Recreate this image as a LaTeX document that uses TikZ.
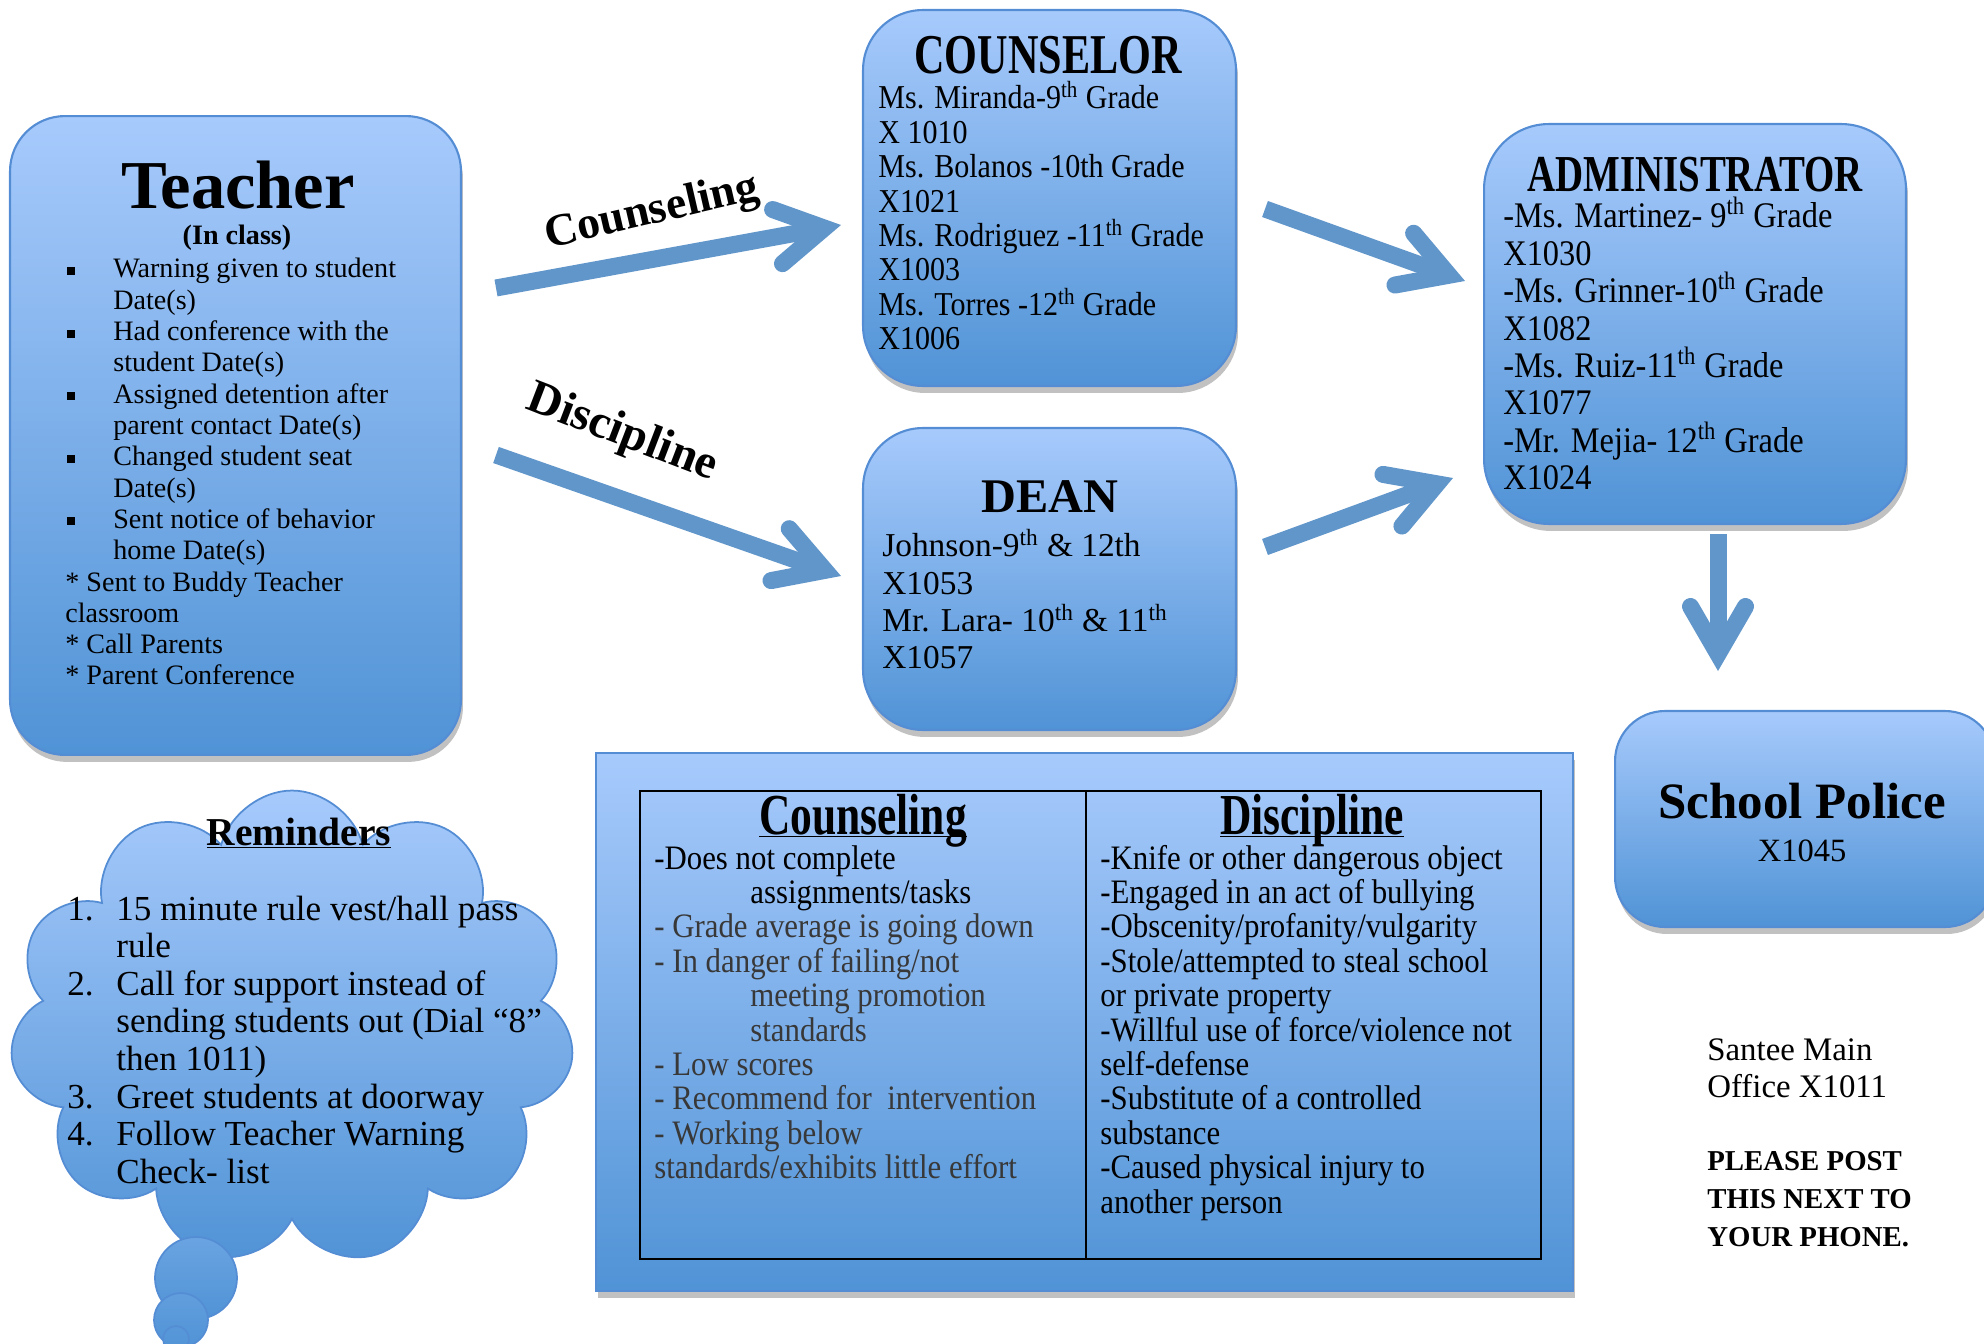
\documentclass[tikz,border=0pt]{standalone}
\usepackage{fontspec}
\setmainfont{Liberation Serif}
\newfontfamily\condfont[FakeStretch=0.9]{Liberation Serif}
\newfontfamily\headfont[FakeStretch=0.75]{Liberation Serif}
\usetikzlibrary{arrows.meta, shapes.symbols, shadows}
\definecolor{boxtop}{RGB}{167,202,252}
\definecolor{boxbot}{RGB}{80,147,214}
\definecolor{boxline}{RGB}{84,141,212}
\definecolor{flowblue}{RGB}{97,150,203}
\newcommand{\ulflat}[1]{\underline{\smash{#1}}}

\tikzset{
  box/.style={draw=boxline, line width=1.2pt, top color=boxtop, bottom color=boxbot,
    drop shadow={shadow xshift=0.4mm, shadow yshift=-1.4mm, opacity=0.35, fill=black!70}},
  bubble/.style={draw=boxline, line width=1pt, top color=boxtop, bottom color=boxbot},
  flow/.style={draw=flowblue, line width=9.7pt,
    -{Straight Barb[length=0.95cm, width=1.1cm, line cap=round]}},
  tline/.style={anchor=base west, inner sep=0pt, font=\fontsize{16}{18}\selectfont},
  cline/.style={anchor=base west, inner sep=0pt, font=\condfont\fontsize{19}{20}\selectfont},
  aline/.style={anchor=base west, inner sep=0pt, font=\condfont\fontsize{20.5}{21}\selectfont},
  dline/.style={anchor=base west, inner sep=0pt, font=\fontsize{19}{21}\selectfont},
  rline/.style={anchor=base west, inner sep=0pt, font=\condfont\fontsize{19.5}{20}\selectfont},
  mline/.style={anchor=base west, inner sep=0pt, font=\fontsize{20}{21}\selectfont},
  pline/.style={anchor=base west, inner sep=0pt, font=\fontsize{18.7}{20}\selectfont},
  head/.style={anchor=base, inner sep=0pt, font=\headfont\bfseries\fontsize{30}{32}\selectfont},
  lbl/.style={inner sep=0pt, font=\bfseries\fontsize{26}{28}\selectfont},
  bulletbox/.style={fill=black, inner sep=0pt, minimum size=0.16cm}
}

\begin{document}
\begin{tikzpicture}[x=0.02cm, y=-0.02cm]
  \useasboundingbox (0,0) rectangle (1984,1344);

  % boxes
  \node[box, rounded corners=1.1cm, minimum width=9.02cm, minimum height=12.78cm] (teacher) at (235.5,435.5) {};
  \node[box, rounded corners=1.2cm, minimum width=7.46cm, minimum height=7.52cm] (counselor) at (1049.5,198) {};
  \node[box, rounded corners=1.2cm, minimum width=7.46cm, minimum height=6.04cm] (dean) at (1049.5,579) {};
  \node[box, rounded corners=1.3cm, minimum width=8.44cm, minimum height=8cm] (admin) at (1695,324) {};
  \node[box, rounded corners=1cm, minimum width=7.6cm, minimum height=4.32cm] (police) at (1805,819) {};
  \node[box, minimum width=19.54cm, minimum height=10.76cm] (rules) at (1084.5,1022) {};

  % thought cloud
  \node[bubble, cloud, cloud puffs=11, aspect=1.17, minimum width=11.3cm, minimum height=9.5cm] (cloud) at (292,1028) {};
  \node[bubble, circle, minimum size=1.64cm, top color=boxbot!70!boxtop] (bub1) at (196,1278) {};
  \node[bubble, circle, minimum size=1.08cm, top color=boxbot!80!boxtop] (bub2) at (181,1320) {};
  \node[bubble, circle, minimum size=0.52cm, top color=boxbot!90!boxtop] (bub3) at (176,1339) {};

  % teacher
  \node[anchor=base, inner sep=0pt, font=\bfseries\fontsize{39}{41}\selectfont] (ttitle) at (238,209) {Teacher};
  \node[anchor=base, inner sep=0pt, font=\bfseries\fontsize{16}{18}\selectfont] (tsub) at (237,245) {(In class)};
  \foreach \t [count=\i from 0] in {Warning given to student, Date(s), Had conference with the, student Date(s),
      Assigned detention after, parent contact Date(s), Changed student seat, Date(s),
      Sent notice of behavior, home Date(s)}
    \node[tline] (tl\i) at (113, 278+31.3*\i) {\t};
  \foreach \i in {0,2,...,8}
    \node[bulletbox] (tb\i) at (71, 271+31.3*\i) {};
  \foreach \t [count=\i from 10] in {* Sent to Buddy Teacher, classroom, * Call Parents, * Parent Conference}
    \node[tline] (tl\i) at (65, 278+31.3*\i) {\t};

  % counselor
  \node[head, font=\headfont\bfseries\fontsize{32}{34}\selectfont] (ctitle) at (1048,74) {COUNSELOR};
  \foreach \t [count=\i from 0] in {Ms. Miranda-9\textsuperscript{th} Grade, X 1010, Ms. Bolanos -10th Grade, X1021,
      Ms. Rodriguez -11\textsuperscript{th} Grade, X1003, Ms. Torres -12\textsuperscript{th} Grade, X1006}
    \node[cline] (c\i) at (878, 109+34.4*\i) {\t};

  % dean
  \node[anchor=base, inner sep=0pt, font=\bfseries\fontsize{27.5}{30}\selectfont] (dtitle) at (1050,513) {DEAN};
  \foreach \t [count=\i from 0] in {Johnson-9\textsuperscript{th} \& 12th, X1053,
      Mr. Lara- 10\textsuperscript{th} \& 11\textsuperscript{th}, X1057}
    \node[dline] (d\i) at (882, 557+37.3*\i) {\t};

  % administrator
  \node[head, font=\headfont\bfseries\fontsize{29.5}{32}\selectfont] (atitle) at (1695,192) {ADMINISTRATOR};
  \foreach \t [count=\i from 0] in {-Ms. Martinez- 9\textsuperscript{th} Grade, X1030, -Ms. Grinner-10\textsuperscript{th} Grade, X1082,
      -Ms. Ruiz-11\textsuperscript{th} Grade, X1077, -Mr. Mejia- 12\textsuperscript{th} Grade, X1024}
    \node[aline] (a\i) at (1503, 228+37.4*\i) {\t};

  % school police
  \node[anchor=base, inner sep=0pt, font=\bfseries\fontsize{29}{31}\selectfont] (ptitle) at (1802,818) {School Police};
  \node[anchor=base, inner sep=0pt, font=\fontsize{18.5}{20}\selectfont] (pext) at (1802,861) {X1045};

  % arrows
  \coordinate (a1s) at (496,288);  \coordinate (a1e) at (841,225);
  \coordinate (a2s) at (496,455);  \coordinate (a2e) at (841,576);
  \coordinate (a3s) at (1265,209); \coordinate (a3e) at (1465,281);
  \coordinate (a4s) at (1265,547); \coordinate (a4e) at (1453,478);
  \coordinate (a5s) at (1718,534); \coordinate (a5e) at (1718,671);
  \foreach \n in {1,...,5}
    \draw[flow] (a\n s) -- (a\n e);
  \node[lbl, rotate=13] (lcouns) at (652,213) {Counseling};
  \node[lbl, rotate=-21, font=\bfseries\fontsize{27}{29}\selectfont] (ldisc) at (622,434) {Discipline};

  % table
  \draw[black, line width=1.2pt] (640,791) rectangle (1541,1259);
  \draw[black, line width=1.2pt] (1086,791) -- (1086,1259);
  \node[head, font=\headfont\bfseries\fontsize{33}{35}\selectfont] (hcouns) at (863,834) {\ulflat{Counseling}};
  \node[head, font=\headfont\bfseries\fontsize{33}{35}\selectfont] (hdisc) at (1312,834) {\ulflat{Discipline}};
  \foreach \xx/\t [count=\i from 0] in {654/{-Does not complete}, 750/{assignments/tasks}}
    \node[rline] (lc\i) at (\xx, 869+34.4*\i) {\t};
  \foreach \xx/\t [count=\i from 2] in {654/{- Grade average is going down}, 654/{- In danger of failing/not},
      750/{meeting promotion}, 750/{standards}, 654/{- Low scores}, 654/{- Recommend for~ intervention},
      654/{- Working below}, 654/{standards/exhibits little effort}}
    \node[rline, text=black!78] (lc\i) at (\xx, 869+34.4*\i) {\t};
  \foreach \t [count=\i from 0] in {-Knife or other dangerous object, -Engaged in an act of bullying,
      -Obscenity/profanity/vulgarity, -Stole/attempted to steal school, or private property,
      -Willful use of force/violence not, self-defense, -Substitute of a controlled, substance,
      -Caused physical injury to, another person}
    \node[rline] (rc\i) at (1100, 869+34.4*\i) {\t};

  % reminders
  \node[anchor=base, inner sep=0pt, font=\bfseries\fontsize{22.5}{24}\selectfont] (rtitle) at (299,845) {\ulflat{Reminders}};
  \foreach \t [count=\i from 0] in {15 minute rule vest/hall pass, rule, Call for support instead of,
      sending students out (Dial ``8'', then 1011), Greet students at doorway, Follow Teacher Warning, Check- list}
    \node[mline] (m\i) at (116, 920+37.6*\i) {\t};
  \foreach \n/\i in {1/0, 2/2, 3/5, 4/6}
    \node[mline] (mn\n) at (67, 920+37.6*\i) {\n.};

  % note
  \node[pline] (santee1) at (1707,1060) {Santee Main};
  \node[pline] (santee2) at (1707,1097) {Office X1011};
  \foreach \t [count=\i] in {PLEASE POST, THIS NEXT TO, YOUR PHONE.}
    \node[pline, font=\bfseries\fontsize{16.4}{18}\selectfont] (post\i) at (1707,1132+38*\i) {\t};

\end{tikzpicture}
\end{document}
